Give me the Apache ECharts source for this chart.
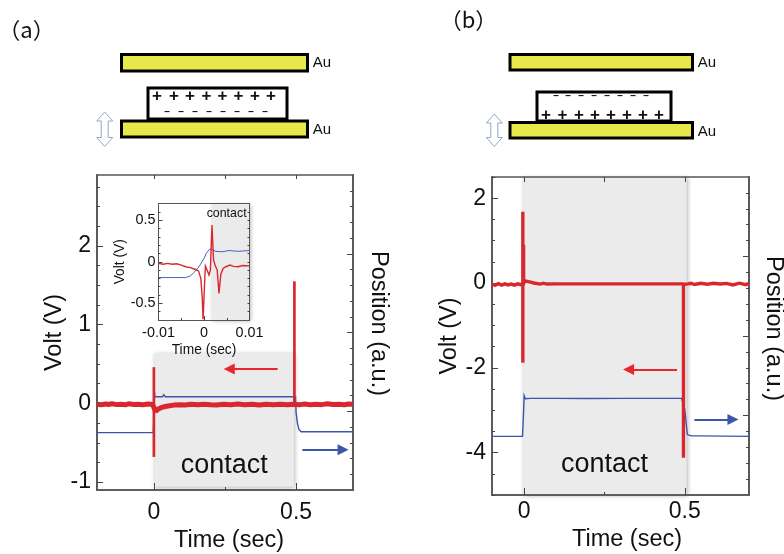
<!DOCTYPE html>
<html>
<head>
<meta charset="utf-8">
<style>html,body{margin:0;padding:0;background:#fff}#c{width:784px;height:554px}</style>
<script src="https://cdn.jsdelivr.net/npm/echarts@6/dist/echarts.min.js"></script>
</head>
<body>
<div id="c"></div>
<script>
// ---------- data ----------
const xLabel = 'Time (sec)', voltLabel = 'Volt (V)', posLabel = 'Position (a.u.)', contactLabel = 'contact';

// panel (a): time, volt -- noisy baseline and the two contact spikes
const baseA = [[-0.2,-0.01],[-0.185,-0.018],[-0.17,-0.008],[-0.16,-0.015],[-0.148,-0.005],[-0.13,-0.016],[-0.115,-0.01],[-0.1,-0.018],[-0.09,-0.006],[-0.07,-0.014],[-0.055,-0.01],[-0.04,-0.018],[-0.02,-0.008],[-0.005,-0.014],[0.001,-0.06],[0.006,-0.1],[0.014,-0.075],[0.025,-0.055],[0.04,-0.04],[0.055,-0.03],[0.07,-0.022],[0.09,-0.016],[0.11,-0.02],[0.13,-0.012],[0.155,-0.018],[0.175,-0.01],[0.2,-0.016],[0.22,-0.02],[0.245,-0.012],[0.27,-0.018],[0.295,-0.008],[0.32,-0.016],[0.345,-0.012],[0.37,-0.02],[0.395,-0.01],[0.42,-0.016],[0.445,-0.012],[0.47,-0.018],[0.49,-0.012],[0.515,-0.016],[0.53,-0.008],[0.55,-0.017],[0.57,-0.01],[0.59,-0.016],[0.61,-0.006],[0.63,-0.015],[0.65,-0.01],[0.67,-0.017],[0.685,-0.008],[0.7,-0.012]];
const spikeA1 = [[0,0.46],[0,-0.68]];
const spikeA2 = [[0.494,1.55],[0.494,0.0]];
const blueA = [[-0.2,3.64],[-0.002,3.64],[0,4.6],[0.002,6.2],[0.004,5.92],[0.03,5.92],[0.035,6.05],[0.04,5.92],[0.12,5.92],[0.125,6.02],[0.13,5.92],[0.21,5.92],[0.215,6.03],[0.22,5.92],[0.3,5.92],[0.305,6.03],[0.31,5.92],[0.36,5.92],[0.365,6.03],[0.37,5.92],[0.39,5.92],[0.395,6.03],[0.4,5.92],[0.44,5.92],[0.445,6.02],[0.45,5.92],[0.498,5.92],[0.5,4.9],[0.505,4.2],[0.51,3.85],[0.518,3.7],[0.7,3.7]];
const shadeA = [[0.002,0.636],[0.493,-1.06]];
const redArrowA = [[0.435,0.437],[0.265,0.437]];
const blueArrowA = [[0.522,-0.59],[0.665,-0.59]];

// panel (a) inset: time, volt
const redInset = [[-0.01,-0.02],[-0.009,-0.03],[-0.008,-0.02],[-0.007,-0.03],[-0.006,-0.025],[-0.005,-0.04],[-0.004,-0.06],[-0.003,-0.07],[-0.002,-0.09],[-0.0012,-0.11],[-0.0007,-0.2],[-0.0004,-0.42],[-0.0002,-0.69],[0.0001,-0.3],[0.0003,-0.05],[0.0006,-0.09],[0.0011,-0.16],[0.0014,-0.1],[0.00175,0.44],[0.0021,0.02],[0.0025,-0.05],[0.0029,-0.1],[0.0033,-0.38],[0.0037,-0.15],[0.0042,-0.08],[0.0048,-0.06],[0.0057,-0.04],[0.0065,-0.055],[0.0075,-0.06],[0.0085,-0.045],[0.01,-0.05]];
const blueInset = [[-0.01,-0.19],[-0.007,-0.19],[-0.004,-0.19],[-0.003,-0.17],[-0.002,-0.12],[-0.001,-0.05],[0,0.04],[0.0005,0.1],[0.0013,0.155],[0.002,0.14],[0.0026,0.125],[0.004,0.12],[0.0055,0.135],[0.0075,0.125],[0.01,0.135]];
const shadeInset = [[0.0017,0.7],[0.01,-0.7]];

// panel (b): time, volt
const baseB = [[-0.1,-0.03],[-0.09,-0.05],[-0.08,-0.015],[-0.07,-0.05],[-0.06,-0.02],[-0.05,-0.045],[-0.04,-0.025],[-0.03,-0.05],[-0.02,-0.02],[-0.01,-0.04],[-0.002,-0.02],[0.002,0.05],[0.01,0.04],[0.02,0.02],[0.03,0.0],[0.05,-0.025],[0.06,-0.005],[0.07,-0.025],[0.1,-0.02],[0.2,-0.02],[0.3,-0.02],[0.4,-0.02],[0.49,-0.02],[0.5,-0.03],[0.51,-0.02],[0.52,-0.005],[0.53,-0.035],[0.55,-0.005],[0.57,-0.03],[0.59,-0.005],[0.61,-0.025],[0.63,-0.01],[0.65,-0.045],[0.67,-0.005],[0.69,-0.04],[0.7,-0.01]];
const spikeB1 = [[-0.004,1.68],[-0.004,-1.88]];
const spikeB1b = [[-0.001,0.9],[-0.001,0.0]];
const spikeB2 = [[0.496,-0.02],[0.496,-4.12]];
const blueB = [[-0.1,3.69],[-0.005,3.69],[-0.003,4.6],[-0.001,5.6],[0.0,6.25],[0.004,6.05],[0.02,6.08],[0.1,6.08],[0.2,6.07],[0.3,6.08],[0.4,6.08],[0.49,6.08],[0.496,6.08],[0.5,5.4],[0.504,4.6],[0.508,3.8],[0.52,3.72],[0.545,3.72],[0.55,3.69],[0.7,3.69]];
const shadeB = [[-0.005,2.5],[0.506,-5.0]];
const redArrowB = [[0.476,-2.04],[0.325,-2.04]];
const blueArrowB = [[0.53,-3.22],[0.65,-3.22]];

// tick values
const xMajor = [0, 0.5], xMinor = [0.25], xTop = [0, 0.25, 0.5], xLabelsMain = [0, 0.5];
const voltATicks = [-1, 0, 1, 2];
const voltAMinor = [-1.0,-0.75,-0.5,-0.25,0.25,0.5,0.75,1.25,1.5,1.75,2.25,2.5,2.75];
const voltBTicks = [-4, -2, 0, 2];
const voltBMinor = [-5,-4.5,-3.5,-3,-2.5,-1.5,-1,-0.5,0.5,1,1.5,2.5];
const posMajor = [5, 10, 15];
const posMinor = [1,2,3,4,6,7,8,9,11,12,13,14,16,17,18,19];
const insetVoltTicks = [-0.5, 0, 0.5];
const insetVoltMinor = [-0.6,-0.4,-0.3,-0.2,-0.1,0.1,0.2,0.3,0.4,0.6];
const insetTimeTicks = [-0.01, 0, 0.01];
const insetTimeMinor = [-0.005, 0.005];

// ---------- styling ----------
const RED = '#d9272e', BLUE = '#3b55a8', AX = '#555555', FONT = '"Liberation Sans", Arial, sans-serif', INK = '#111111';
const line = (w) => ({ show: true, onZero: false, lineStyle: { color: AX, width: w } });

function ax(grid, min, max, pos, ticks, len, opts) {
  return Object.assign({
    type: 'value', gridIndex: grid, min, max, position: pos, z: 2, splitLine: { show: false },
    axisLine: line(opts && opts.lw || 1.6),
    axisTick: { show: true, inside: true, length: len, customValues: ticks, lineStyle: { color: '#444', width: 1 } },
    axisLabel: { show: false }
  }, opts && opts.extra);
}
const xAx = ax, yAx = ax;
const labelStyle = (size, margin, vals) => ({ show: true, fontFamily: FONT, fontSize: size, color: INK, margin, customValues: vals, hideOverlap: false, showMinLabel: true, showMaxLabel: true, formatter: v => String(v) });
const nameStyle = (size, padding) => ({ fontFamily: FONT, fontSize: size, color: INK, padding: padding || 0 });

const xAxes = [
  // panel a
  xAx(0,-0.2,0.7,'bottom',xMajor,7,{extra:{axisLabel:labelStyle(23,11,xLabelsMain),name:xLabel,nameLocation:'middle',nameGap:36,nameTextStyle:nameStyle(23.5,[0,0,0,8])}}),
  xAx(0,-0.2,0.7,'bottom',xMinor,3),
  xAx(0,-0.2,0.7,'top',xTop,4),
  // panel b
  xAx(1,-0.1,0.7,'bottom',xMajor,7,{extra:{axisLabel:labelStyle(23,5,xLabelsMain),name:xLabel,nameLocation:'middle',nameGap:29,nameTextStyle:nameStyle(23.5,[0,0,0,13])}}),
  xAx(1,-0.1,0.7,'bottom',xMinor,3),
  xAx(1,-0.1,0.7,'top',xTop,5),
  // inset
  xAx(2,-0.01,0.01,'bottom',insetTimeTicks,4,{lw:1,extra:{axisLabel:labelStyle(14.4,6,insetTimeTicks),name:xLabel,nameLocation:'middle',nameGap:23,nameTextStyle:nameStyle(13.8)}}),
  xAx(2,-0.01,0.01,'bottom',insetTimeMinor,2,{lw:1}),
  xAx(2,-0.01,0.01,'top',[],0,{lw:1})
];
const yAxes = [
  // panel a: 0 volt, 1 volt minor, 2 position, 3 position minor
  yAx(0,-1.1,2.9,'left',voltATicks,6,{extra:{axisLabel:labelStyle(23,6,voltATicks),name:voltLabel,nameLocation:'middle',nameGap:26,nameTextStyle:nameStyle(23.5)}}),
  yAx(0,-1.1,2.9,'left',voltAMinor,3),
  yAx(0,0,20,'right',posMajor,6,{extra:{name:posLabel,nameLocation:'middle',nameRotate:-90,nameGap:13,nameTextStyle:nameStyle(23.5,[0,18,0,0])}}),
  yAx(0,0,20,'right',posMinor,3),
  // panel b: 4 volt, 5 volt minor, 6 position, 7 position minor
  yAx(1,-5,2.5,'left',voltBTicks,6,{extra:{axisLabel:labelStyle(23,6,voltBTicks),name:voltLabel,nameLocation:'middle',nameGap:30,nameTextStyle:nameStyle(23.5)}}),
  yAx(1,-5,2.5,'left',voltBMinor,3),
  yAx(1,0,20,'right',posMajor,6,{extra:{name:posLabel,nameLocation:'middle',nameRotate:-90,nameGap:12,nameTextStyle:nameStyle(23.5,[0,15,0,0])}}),
  yAx(1,0,20,'right',posMinor,3),
  // inset: 8 volt, 9 volt minor, 10 right
  yAx(2,-0.7,0.7,'left',insetVoltTicks,4,{lw:1,extra:{axisLabel:labelStyle(14.4,3,insetVoltTicks),name:voltLabel,nameLocation:'middle',nameGap:31,nameTextStyle:nameStyle(13.8)}}),
  yAx(2,-0.7,0.7,'left',insetVoltMinor,2,{lw:1}),
  yAx(2,-0.7,0.7,'right',[-0.6,-0.5,-0.4,-0.3,-0.2,-0.1,0,0.1,0.2,0.3,0.4,0.5,0.6],2,{lw:1})
];

const shadeSeries = (xi, yi, area, labelOpts) => ({
  type: 'line', xAxisIndex: xi, yAxisIndex: yi, data: [], silent: true, z: 1,
  markArea: {
    silent: true,
    itemStyle: { color: '#ebebeb', shadowColor: 'rgba(0,0,0,0.28)', shadowBlur: 4, shadowOffsetX: 1, shadowOffsetY: 1 },
    label: Object.assign({ show: true, formatter: contactLabel, color: INK, fontFamily: FONT }, labelOpts),
    data: [[{ coord: area[0] }, { coord: area[1] }]]
  }
});
const arrow = (arr, color) => ({
  silent: true, animation: false, symbol: ['none', 'triangle'], symbolSize: 11, label: { show: false },
  lineStyle: { color, width: 2, type: 'solid' }, data: [[{ coord: arr[0] }, { coord: arr[1] }]]
});
const lineSeries = (name, xi, yi, data, color, width, extra) => Object.assign({
  name, type: 'line', xAxisIndex: xi, yAxisIndex: yi, data, showSymbol: false, smooth: false, clip: false, animation: false,
  lineStyle: { color, width, join: 'miter' }, itemStyle: { color }, z: 3
}, extra);

const series = [
  shadeSeries(0,0,shadeA,{position:'insideBottom',distance:8,fontSize:27}),
  lineSeries('Position a',0,2,blueA,BLUE,1.4,{z:3,markLine:arrow(blueArrowA.map(p=>[p[0],(p[1]+1.1)*5]),BLUE)}),
  lineSeries('Volt a',0,0,baseA,RED,5,{z:4,lineStyle:{color:RED,width:5,cap:'butt'},markLine:arrow(redArrowA,'#e8262c')}),
  lineSeries('Volt a spike 1',0,0,spikeA1,RED,2.7,{z:4}),
  lineSeries('Volt a spike 2',0,0,spikeA2,RED,2.7,{z:4}),
  shadeSeries(3,4,shadeB,{position:'insideBottom',distance:17,fontSize:27}),
  lineSeries('Position b',3,6,blueB,BLUE,1.4,{z:3,markLine:arrow(blueArrowB.map(p=>[p[0],(p[1]+5)*20/7.5]),BLUE)}),
  lineSeries('Volt b',3,4,baseB,RED,3.4,{z:4,markLine:arrow(redArrowB,'#e8262c')}),
  lineSeries('Volt b spike 1',3,4,spikeB1,RED,3.4,{z:4}),
  lineSeries('Volt b spike 1b',3,4,spikeB1b,RED,3,{z:4}),
  lineSeries('Volt b spike 2',3,4,spikeB2,RED,3.4,{z:4}),
  shadeSeries(6,8,shadeInset,{position:'insideTop',distance:4,fontSize:12.4,offset:[-4,0]}),
  lineSeries('Position inset',6,8,blueInset,'#4a63b8',1,{z:5}),
  lineSeries('Volt inset',6,8,redInset,RED,1.4,{z:6})
];

// ---------- schematic drawings ----------
const YEL = '#e9e84a';
const g = [];
const rect = (x1,y1,x2,y2,fill) => g.push({ type:'rect', shape:{x:x1,y:y1,width:x2-x1,height:y2-y1}, style:{fill,stroke:'#000',lineWidth:3} });
const txt = (t,x,y,size,o) => g.push({ type:'text', x, y, style:Object.assign({ text:t, fontFamily:FONT, fontSize:size, fill:'#111', align:'center', verticalAlign:'middle' },o) });
const dblArrow = (cx,y1,y2) => g.push({ type:'polygon', shape:{points:[[cx,y1],[cx+8,y1+9],[cx+3.5,y1+9],[cx+3.5,y2-9],[cx+8,y2-9],[cx,y2],[cx-8,y2-9],[cx-3.5,y2-9],[cx-3.5,y1+9],[cx-8,y1+9]]}, style:{fill:'#fff',stroke:'#93a8c8',lineWidth:1} });

// panel a drawing
rect(121.5,54.5,307.5,71,YEL);
rect(148,88,287,119,'#fff');
rect(121.5,121,307.5,137,YEL);
[157,174,190,206.5,222.5,238.5,255,271].forEach(x=>txt('+',x,96.5,17,{fontWeight:'bold'}));
[167,181,195,209,223,237,251,265].forEach(x=>txt('–',x,112.5,10,{fontWeight:'bold'}));
txt('Au',322,63,15); txt('Au',322,129.5,15);
dblArrow(104.7,112,146.5);
txt('（a）',26.5,30,22,{fontFamily:'"Noto Sans CJK SC"'});

// panel b drawing
rect(510,54.5,692.5,70,YEL);
rect(537,92,671,121,'#fff');
rect(510,122.5,692.5,138,YEL);
[556,568,581,594,607,620,633,646].forEach(x=>txt('–',x,96,10,{fontWeight:'bold'}));
[546,562.5,579,595,611,627,643,659].forEach(x=>txt('+',x,115.5,17,{fontWeight:'bold'}));
txt('Au',707,63,15); txt('Au',707,132,15);
dblArrow(494.3,114,146.5);
txt('（b）',468.5,20,22,{fontFamily:'"Noto Sans CJK SC"'});

const chart = echarts.init(document.getElementById('c'), null, { renderer: 'canvas' });
chart.setOption({
  animation: false,
  backgroundColor: '#fff',
  grid: [
    { left: 97, top: 175, width: 256, height: 315, outerBoundsMode: 'none' },
    { left: 492, top: 177, width: 257, height: 318, outerBoundsMode: 'none' },
    { left: 158.5, top: 203.5, width: 91, height: 116.5, z: 10, outerBoundsMode: 'none' }
  ],
  xAxis: xAxes,
  yAxis: yAxes,
  series,
  graphic: { elements: g }
});
</script>
</body>
</html>
